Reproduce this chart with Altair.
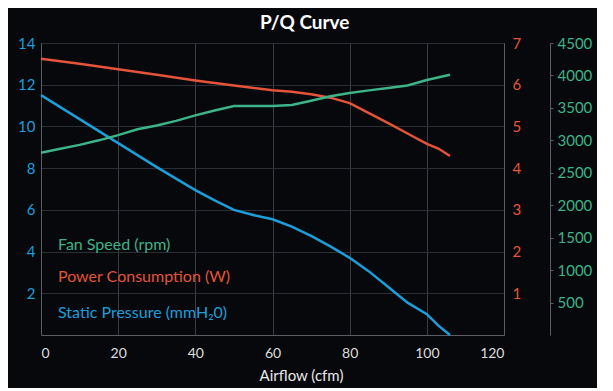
import altair as alt
import pandas as pd

# Static pressure (mmH2O) vs airflow (cfm)
sp_airflow = [0, 10, 20, 30, 40, 45, 50, 55, 60, 65, 70, 75, 80, 85, 90, 95, 100, 103, 106]
sp_value = [11.5, 10.35, 9.2, 8.05, 6.95, 6.45, 6.0, 5.75, 5.55, 5.2, 4.75, 4.25, 3.7, 3.05, 2.3, 1.55, 1.0, 0.45, 0.0]

# Power consumption (W) vs airflow (cfm)
pw_airflow = [0, 10, 20, 30, 40, 50, 60, 65, 70, 75, 80, 85, 90, 95, 100, 103, 106]
pw_value = [6.62, 6.50, 6.37, 6.24, 6.10, 5.98, 5.87, 5.83, 5.77, 5.69, 5.56, 5.32, 5.08, 4.83, 4.58, 4.47, 4.29]

# Fan speed (rpm) vs airflow (cfm)
fs_airflow = [0, 5, 10, 15, 20, 25, 30, 35, 40, 45, 50, 55, 60, 65, 70, 75, 80, 85, 90, 95, 100, 106]
fs_value = [2810, 2870, 2930, 3000, 3080, 3170, 3230, 3300, 3385, 3460, 3530, 3530, 3530, 3545, 3610, 3680, 3730, 3770, 3805, 3845, 3930, 4010]

x_ticks = [0, 20, 40, 60, 80, 100, 120]
left_ticks = [2, 4, 6, 8, 10, 12, 14]
red_ticks = [1, 2, 3, 4, 5, 6, 7]
green_ticks = [500, 1000, 1500, 2000, 2500, 3000, 3500, 4000, 4500]

legend_labels = ["Fan Speed (rpm)", "Power Consumption (W)", "Static Pressure (mmH\u20820)"]
legend_x = [4.4, 4.4, 4.4]
legend_y = [4.3, 2.78, 1.05]

BLUE = "#1c9edb"
RED = "#e5533b"
GREEN = "#3db388"
legend_colors = [GREEN, RED, BLUE]
DOMAIN = "#5a5d62"

df_sp = pd.DataFrame({"airflow": sp_airflow, "v": sp_value})
df_pw = pd.DataFrame({"airflow": pw_airflow, "v": pw_value})
df_fs = pd.DataFrame({"airflow": fs_airflow, "v": fs_value})
df_lg = pd.DataFrame({"airflow": legend_x, "v": legend_y, "label": legend_labels, "c": legend_colors})

x_enc = alt.X(
    "airflow:Q",
    scale=alt.Scale(domain=[0, 120], nice=False),
    axis=alt.Axis(
        values=x_ticks, title="Airflow (cfm)", grid=True, gridColor="#3a3d43",
        domainColor=DOMAIN, ticks=False, labelColor="#dddddd", labelFontSize=14,
        titleColor="#e8e8e8", titleFontSize=15, titleFontWeight="normal",
        labelPadding=11, titlePadding=8, titleX=260,
    ),
)

blue = alt.Chart(df_sp).mark_line(color=BLUE, strokeWidth=2.5).encode(
    x=x_enc,
    y=alt.Y("v:Q", scale=alt.Scale(domain=[0, 14], nice=False),
            axis=alt.Axis(orient="left", values=left_ticks, title=None, labelColor=BLUE,
                          labelFontSize=15, grid=True, gridColor="#2b2e33",
                          domainColor=DOMAIN, ticks=False, labelPadding=6)),
)

red = alt.Chart(df_pw).mark_line(color=RED, strokeWidth=2.5).encode(
    x=x_enc,
    y=alt.Y("v:Q", scale=alt.Scale(domain=[0, 7], nice=False),
            axis=alt.Axis(orient="right", values=red_ticks, title=None, labelColor=RED,
                          labelFontSize=15, grid=False, domainColor=DOMAIN,
                          ticks=False, labelPadding=8)),
)

green = alt.Chart(df_fs).mark_line(color=GREEN, strokeWidth=2.5).encode(
    x=x_enc,
    y=alt.Y("v:Q", scale=alt.Scale(domain=[0, 4500], nice=False),
            axis=alt.Axis(orient="right", offset=46, values=green_ticks, title=None,
                          labelColor=GREEN, labelFontSize=15, grid=False, format="d",
                          domainColor=DOMAIN, ticks=True, tickSize=3, tickColor=DOMAIN,
                          labelPadding=4)),
)

legend = alt.Chart(df_lg).mark_text(align="left", baseline="middle", fontSize=16).encode(
    x=x_enc,
    y=alt.Y("v:Q", scale=alt.Scale(domain=[0, 14], nice=False), axis=None),
    text="label:N",
    color=alt.Color("c:N", scale=None),
)

chart = alt.layer(blue, red, green, legend).resolve_scale(y="independent").properties(
    width=463, height=292,
    title=alt.TitleParams("P/Q Curve", fontSize=19, fontWeight="bold", color="white",
                          anchor="middle", frame="bounds", offset=3),
    padding={"left": 9, "top": 6, "right": 5, "bottom": 5},
).configure(
    font="Lato", background="#06080b"
).configure_view(stroke=None)

chart.save("out.html", embed_options={"renderer": "svg", "actions": False})
